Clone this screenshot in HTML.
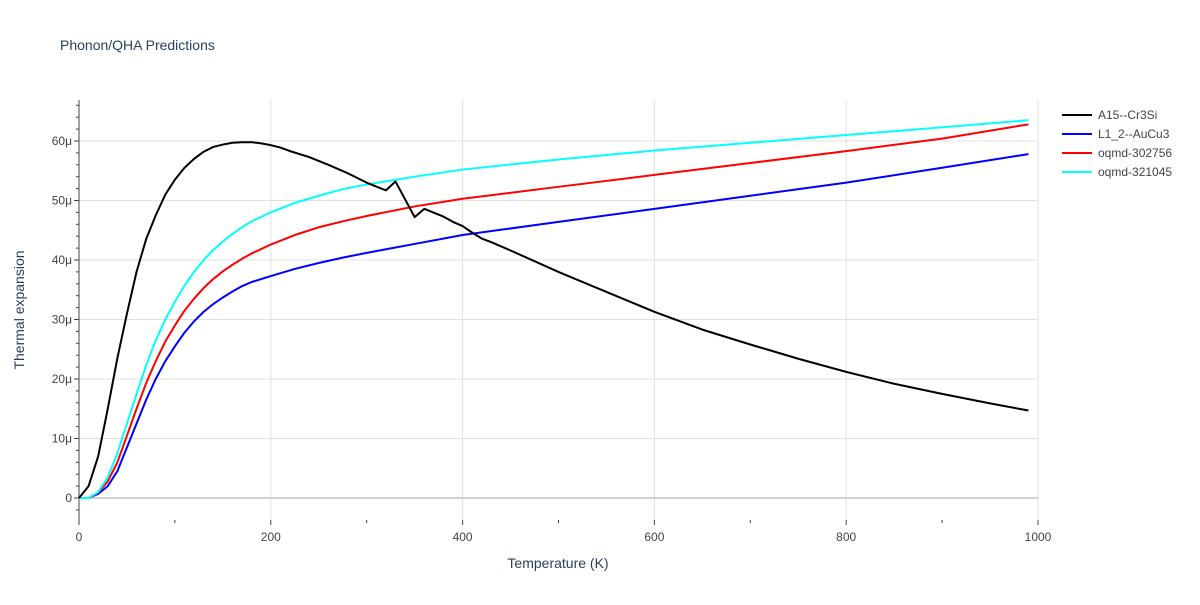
<!DOCTYPE html>
<html><head><meta charset="utf-8"><style>
body{margin:0;background:#fff;font-family:"Liberation Sans",sans-serif}
text{font-family:"Liberation Sans",sans-serif}
</style></head><body>
<svg id="chart" width="1200" height="600" xmlns="http://www.w3.org/2000/svg">
<text x="60" y="50" font-size="14" fill="#2a3f5f">Phonon/QHA Predictions</text>
<g id="grid"></g><g id="axes"></g><g id="series"></g><g id="legend"></g>
<text x="558" y="568" font-size="14" fill="#2a3f5f" text-anchor="middle">Temperature (K)</text>
<text x="24" y="310" font-size="14" fill="#2a3f5f" text-anchor="middle" transform="rotate(-90 24 310)">Thermal expansion</text>
</svg>
<script>
const xTicks=[0,200,400,600,800,1000];
const yTicks=[0,10,20,30,40,50,60];
const yTickLabels=["0","10μ","20μ","30μ","40μ","50μ","60μ"];
const seriesNames=["A15--Cr3Si","L1_2--AuCu3","oqmd-302756","oqmd-321045"];
const seriesColors=["#000000","#0000ff","#ff0000","#00ffff"];
const tA15=[0,10,20,30,40,50,60,70,80,90,100,110,120,130,140,150,160,170,180,190,200,210,220,240,260,280,300,320,330,350,360,380,390,400,410,420,430,450,500,540,600,650,700,750,800,850,900,950,990];
const vA15=[0,2,7,15,23.5,31,38,43.5,47.5,51,53.5,55.5,57,58.2,59,59.4,59.7,59.8,59.8,59.6,59.3,58.9,58.3,57.3,56,54.6,53,51.7,53.2,47.2,48.6,47.3,46.4,45.7,44.6,43.6,43,41.6,38,35.3,31.3,28.3,25.8,23.4,21.2,19.2,17.5,15.9,14.7];
const tOther=[0,10,20,30,40,50,60,70,80,90,100,110,120,130,140,150,160,170,180,200,225,250,275,300,350,400,500,600,700,800,900,990];
const vL12=[0,0,0.7,2,4.5,8.5,12.5,16.5,20,23,25.5,27.8,29.7,31.3,32.6,33.7,34.7,35.6,36.3,37.3,38.5,39.5,40.4,41.2,42.7,44.2,46.4,48.6,50.8,53,55.5,57.8];
const v302756=[0,0,0.9,2.8,6,10.5,15,19.3,23,26.3,29,31.5,33.5,35.3,36.8,38.1,39.2,40.2,41.1,42.6,44.2,45.5,46.5,47.4,49,50.3,52.3,54.3,56.3,58.3,60.4,62.8];
const v321045=[0,0,1,3.5,7.5,12.5,17.5,22.3,26.5,30,33,35.7,38,40,41.7,43.1,44.4,45.5,46.5,48,49.6,50.8,51.9,52.7,54,55.2,56.9,58.4,59.7,61,62.3,63.5];
const NS="http://www.w3.org/2000/svg";
const L=79,R=1038,T=100,B=520;
const xs=t=>L+t*(R-L)/1000;
const ys=v=>498-v*(498-141)/60;
function mk(tag,attrs,parent){const e=document.createElementNS(NS,tag);for(const k in attrs)e.setAttribute(k,attrs[k]);document.getElementById(parent).appendChild(e);return e;}
xTicks.forEach(t=>{
  if(t>0){const g=mk('line',{x1:xs(t),x2:xs(t),y1:T,y2:B,stroke:'#e0e0e0'},'grid');
  
  }
  const tx=mk('text',{x:xs(t),y:541,'font-size':12,fill:'#444','text-anchor':'middle'},'axes');tx.textContent=t;
  
  
});
for(let t=0;t<=1000;t+=100){const m=mk('line',{x1:xs(t),x2:xs(t),y1:B,y2:B+(t%200===0?5:3),stroke:'#444'},'axes');
  
  }
yTicks.forEach((v,i)=>{
  const g=mk('line',{x1:L,x2:R,y1:ys(v),y2:ys(v),stroke:v===0?'#d0d0d0':'#e0e0e0','stroke-width':v===0?2:1},'grid');
  
  
  const tx=mk('text',{x:72,y:ys(v)+4,'font-size':12,fill:'#444','text-anchor':'end'},'axes');tx.textContent=yTickLabels[i];
  
  
});
for(let v=-2;v<=66;v+=2){const m=mk('line',{x1:L-(v%10===0?5:3),x2:L,y1:ys(v),y2:ys(v),stroke:'#444'},'axes');
  
  }
const ax=mk('line',{x1:L,x2:L,y1:T,y2:B,stroke:'#444'},'axes');


const data=[[tA15,vA15],[tOther,vL12],[tOther,v302756],[tOther,v321045]];
const order=[1,2,3,0];
order.forEach(i=>{
  const [t,v]=data[i];
  const p=mk('polyline',{points:t.map((tt,j)=>xs(tt)+','+ys(v[j])).join(' '),fill:'none',stroke:seriesColors[i],'stroke-width':2,'stroke-linejoin':'round'},'series');
  
  
});
seriesNames.forEach((n,i)=>{
  const y=115+i*19;
  const ln=mk('line',{x1:1062,x2:1092,y1:y,y2:y,stroke:seriesColors[i],'stroke-width':2},'legend');
  
  
  const tx=mk('text',{x:1098,y:y+4,'font-size':12,fill:'#444'},'legend');tx.textContent=n;
  
  
});
</script>
</body></html>
